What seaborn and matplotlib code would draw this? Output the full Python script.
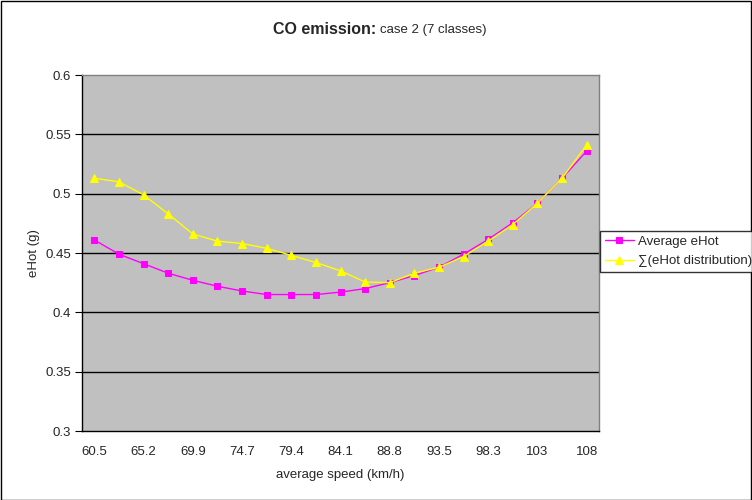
import matplotlib
matplotlib.use("Agg")
import matplotlib.pyplot as plt
from matplotlib.patches import Rectangle
import seaborn as sns
import numpy as np
import pandas as pd

speeds = [60.5, 62.9, 65.2, 67.6, 69.9, 72.3, 74.7, 77.0, 79.4, 81.7, 84.1,
          86.5, 88.8, 91.2, 93.5, 95.9, 98.3, 100.6, 103, 105.4, 108]
avg_ehot = [0.461, 0.449, 0.441, 0.433, 0.427, 0.422, 0.418, 0.415, 0.415, 0.415, 0.417,
            0.420, 0.425, 0.431, 0.438, 0.449, 0.4615, 0.4755, 0.492, 0.513, 0.536]
sum_dist = [0.513, 0.510, 0.499, 0.483, 0.466, 0.460, 0.458, 0.454, 0.448, 0.442, 0.435,
            0.4255, 0.425, 0.433, 0.438, 0.447, 0.460, 0.474, 0.492, 0.513, 0.541]
tick_labels = ["60.5", "65.2", "69.9", "74.7", "79.4", "84.1", "88.8", "93.5", "98.3", "103", "108"]
y_ticks = [0.3, 0.35, 0.4, 0.45, 0.5, 0.55, 0.6]

sns.set_style("white")
plt.rcParams['font.family'] = ['Liberation Sans', 'DejaVu Sans']

fig = plt.figure(figsize=(7.52, 5.0), dpi=100)
ax = fig.add_axes([82/752, 1-431/500, (599-82)/752, (431-75)/500])
ax.set_facecolor('#C0C0C0')

pos = np.arange(len(speeds))
df = pd.DataFrame({'pos': pos, 'avg': avg_ehot, 'dist': sum_dist})

sns.lineplot(data=df, x='pos', y='avg', ax=ax, color='#FF00FF', marker='s',
             markersize=4.6, markeredgecolor='#FF00FF', linewidth=1, label='Average eHot',
             legend=False, zorder=3)
sns.lineplot(data=df, x='pos', y='dist', ax=ax, color='#FFFF00', marker='^',
             markersize=5.6, markeredgecolor='#FFFF00', linewidth=1,
             label='\u2211(eHot distribution)', legend=False, zorder=4)

ax.set_xlim(-0.5, len(speeds) - 0.5)
ax.set_ylim(0.3, 0.6)
ax.set_yticks(y_ticks)
ax.set_yticklabels([f"{v:g}" for v in y_ticks], fontsize=9.5)
ax.set_xticks(pos[::2])
ax.set_xticklabels(tick_labels, fontsize=9.5)
ax.set_xticks(np.arange(-0.5, len(speeds), 1.0), minor=True)
ax.tick_params(axis='x', which='major', length=0, pad=11)
ax.tick_params(axis='x', which='minor', length=5, width=0.8, color='black', direction='out')
ax.tick_params(axis='y', length=5, width=0.8, color='black', direction='out', pad=3, left=True)

for v in y_ticks[1:-1]:
    ax.axhline(v, color='black', linewidth=1, zorder=1)

for s in ['top', 'right']:
    ax.spines[s].set_color('#808080')
    ax.spines[s].set_linewidth(1)
for s in ['left', 'bottom']:
    ax.spines[s].set_color('#000000')
    ax.spines[s].set_linewidth(1)

ax.set_xlabel('average speed (km/h)', fontsize=9.5, labelpad=8)
ax.set_ylabel('eHot (g)', fontsize=9.5, va='center')
ax.yaxis.set_label_coords(-48/517, 0.5)

fig.text(376/752, 1-30/500, 'CO emission:', ha='right', va='center',
         fontsize=11.5, fontweight='bold')
fig.text(380/752, 1-30/500, 'case 2 (7 classes)', ha='left', va='center', fontsize=9.5)

handles, labels = ax.get_legend_handles_labels()
leg = fig.legend(handles, labels, loc='upper left', bbox_to_anchor=(600/752, 1-231/500),
                 fontsize=9.5, frameon=True, fancybox=False, edgecolor='black',
                 borderpad=0.35, handlelength=2.2, handletextpad=0.35, labelspacing=0.55,
                 borderaxespad=0)
leg.get_frame().set_linewidth(1)

fig.patches.append(Rectangle((0.5/752, 0.5/500), 1-1.5/752, 1-1.5/500, transform=fig.transFigure,
                             fill=False, edgecolor='black', linewidth=1))

fig.savefig('out.png', dpi=100)
